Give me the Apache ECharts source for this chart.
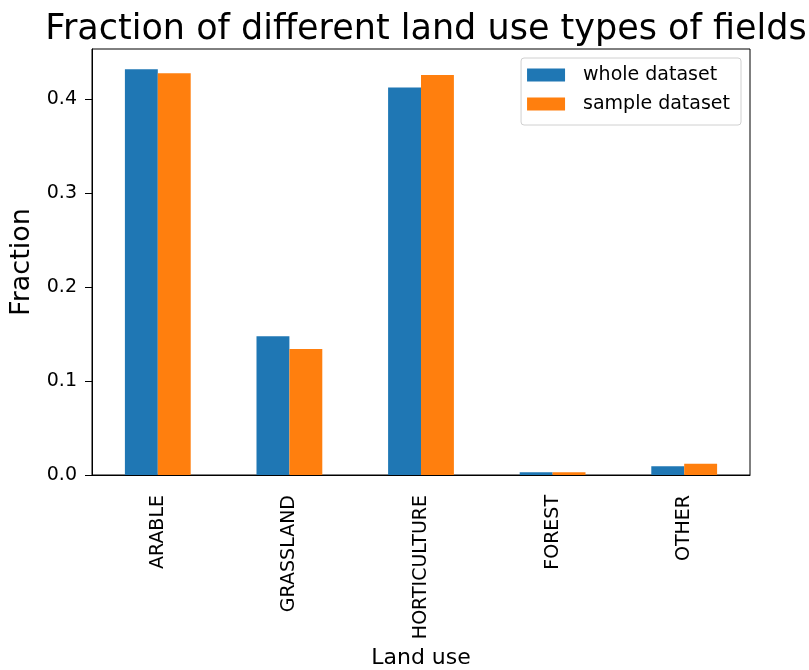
<!DOCTYPE html>
<html>
<head>
<meta charset="utf-8">
<script src="https://cdn.jsdelivr.net/npm/echarts@6/dist/echarts.min.js"></script>
<style>html,body{margin:0;padding:0;background:#fff;}#c{width:809px;height:670px;}</style>
</head>
<body>
<div id="c"></div>
<script>
const categories = ['ARABLE', 'GRASSLAND', 'HORTICULTURE', 'FOREST', 'OTHER'];
const wholeDataset = [0.4318, 0.1477, 0.4123, 0.0028, 0.0092];
const sampleDataset = [0.4276, 0.1340, 0.4258, 0.0028, 0.0120];
const yTicks = [0, 0.1, 0.2, 0.3, 0.4];

const FONT = 'DejaVu Sans';
const chart = echarts.init(document.getElementById('c'), null, {renderer: 'canvas'});
chart.setOption({
  animation: false,
  backgroundColor: '#fff',
  textStyle: {fontFamily: FONT},
  title: {
    text: 'Fraction of different land use types of fields',
    left: 421, top: 7, textAlign: 'center',
    textStyle: {fontFamily: FONT, fontSize: 35, fontWeight: 'normal', color: '#000'}
  },
  legend: {
    orient: 'vertical', right: 68, top: 58,
    itemWidth: 38, itemHeight: 13, itemGap: 9,
    padding: [7, 11, 11, 6],
    borderColor: '#d0d0d0', borderWidth: 1, borderRadius: 3,
    icon: 'rect',
    textStyle: {fontFamily: FONT, fontSize: 19, lineHeight: 20, color: '#000', padding: [0, 0, 0, 13]},
    data: ['whole dataset', 'sample dataset']
  },
  grid: {left: 92, right: 59, top: 49, bottom: 195, show: true, borderColor: '#000', borderWidth: 1,
    containLabel: false, outerBoundsMode: 'none'},
  xAxis: {
    type: 'category', data: categories,
    name: 'Land use', nameLocation: 'middle', nameGap: 172,
    nameTextStyle: {fontFamily: FONT, fontSize: 22, color: '#000'},
    axisLine: {lineStyle: {color: '#000', width: 1}},
    axisTick: {alignWithLabel: true, length: 7, lineStyle: {color: '#000'}},
    axisLabel: {rotate: 90, fontSize: 19, color: '#000', margin: 20, fontFamily: FONT}
  },
  yAxis: {
    type: 'value', min: 0, max: 0.4534, interval: 0.1,
    name: 'Fraction', nameLocation: 'middle', nameGap: 50,
    nameTextStyle: {fontFamily: FONT, fontSize: 27, color: '#000'},
    splitLine: {show: false},
    axisLine: {show: true, lineStyle: {color: '#000', width: 1}},
    axisTick: {show: true, length: 7, lineStyle: {color: '#000'}, customValues: yTicks},
    axisLabel: {fontSize: 19, color: '#000', margin: 15, fontFamily: FONT, customValues: yTicks,
      formatter: v => v.toFixed(1)}
  },
  series: [
    {name: 'whole dataset', type: 'bar', data: wholeDataset, barWidth: '25%', barGap: '0%',
      itemStyle: {color: '#1f77b4'}},
    {name: 'sample dataset', type: 'bar', data: sampleDataset, barWidth: '25%', barGap: '0%',
      itemStyle: {color: '#ff7f0e'}}
  ]
});
</script>
</body>
</html>
